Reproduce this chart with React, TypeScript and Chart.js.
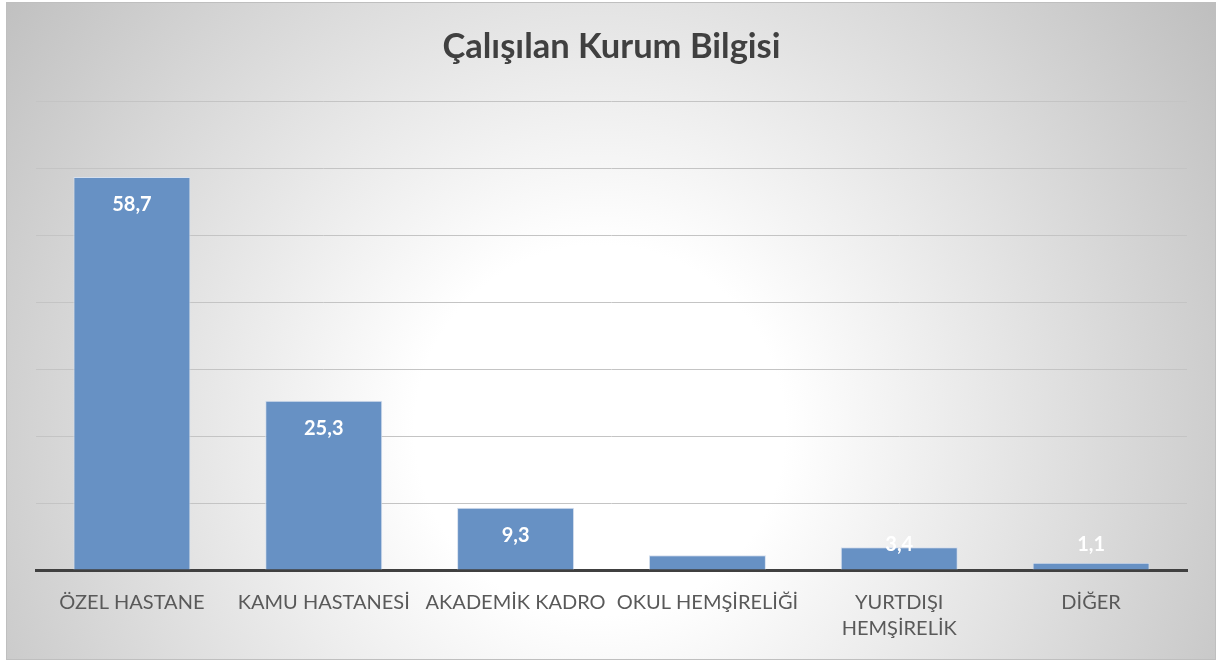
import React, { useEffect, useRef } from "react";
import { Chart, registerables } from "chart.js";

Chart.register(...registerables);

const titleText = "Çalışılan Kurum Bilgisi";
const categories: (string | string[])[] = [
  "ÖZEL HASTANE",
  "KAMU HASTANESİ",
  "AKADEMİK KADRO",
  "OKUL HEMŞİRELİĞİ",
  ["YURTDIŞI", "HEMŞİRELİK"],
  "DİĞER",
];
const values = [58.7, 25.3, 9.3, 2.2, 3.4, 1.1];
const yMax = 70;
const yStep = 10;

const FONT = "Lato, 'Open Sans', sans-serif";

const bgPlugin = {
  id: "bgFrame",
  beforeDraw(chart: any) {
    const ctx = chart.ctx;
    const x0 = 6, y0 = 2, x1 = 1216, y1 = 660;
    ctx.save();
    const g = ctx.createRadialGradient(600, 430, 185, 600, 430, 770);
    g.addColorStop(0, "#ffffff");
    g.addColorStop(1, "#bcbcbc");
    ctx.fillStyle = g;
    ctx.fillRect(x0, y0, x1 - x0, y1 - y0);
    ctx.strokeStyle = "#bfbfbf";
    ctx.lineWidth = 1;
    ctx.strokeRect(x0 + 0.5, y0 + 0.5, x1 - x0 - 1, y1 - y0 - 1);
    ctx.restore();
  },
};

const valueLabelPlugin = {
  id: "valueLabels",
  afterDatasetsDraw(chart: any) {
    const ctx = chart.ctx;
    const meta = chart.getDatasetMeta(0);
    const base = chart.scales.y.getPixelForValue(0);
    ctx.save();
    ctx.font = `bold 20px ${FONT}`;
    ctx.fillStyle = "#ffffff";
    ctx.textAlign = "center";
    ctx.textBaseline = "middle";
    meta.data.forEach((el: any, i: number) => {
      const y = Math.min(el.y + 28, base - 25);
      ctx.fillText(values[i].toFixed(1).replace(".", ","), el.x, y);
    });
    ctx.restore();
  },
};

export default function App() {
  const ref = useRef<HTMLCanvasElement | null>(null);
  useEffect(() => {
    if (!ref.current) return;
    const chart = new Chart(ref.current, {
      type: "bar",
      data: {
        labels: categories,
        datasets: [
          {
            data: values,
            backgroundColor: "#6791c4",
            borderColor: "#d6e0ee",
            borderWidth: 1,
            barPercentage: 0.61,
            categoryPercentage: 1,
          },
        ],
      },
      options: {
        animation: false,
        responsive: false,
        maintainAspectRatio: false,
        layout: { padding: { left: 36, right: 30, top: 2, bottom: 0 } },
        plugins: {
          legend: { display: false },
          tooltip: { enabled: false },
          title: {
            display: true,
            text: titleText,
            color: "#404040",
            font: { family: FONT, size: 34.5, weight: "bold" },
            padding: { top: 24, bottom: 34 },
          },
        },
        scales: {
          y: {
            min: 0,
            max: yMax,
            ticks: { display: false, stepSize: yStep },
            border: { display: false },
            grid: { color: "#c4c4c4", lineWidth: 1, drawTicks: false },
          },
          x: {
            grid: { display: false, drawTicks: false },
            border: { display: true, color: "#404040", width: 3 },
            ticks: {
              color: "#595959",
              font: { family: FONT, size: 20, lineHeight: 1.3 },
              padding: 20,
              maxRotation: 0,
              minRotation: 0,
              autoSkip: false,
            },
          },
        },
      },
      plugins: [bgPlugin, valueLabelPlugin],
    });
    return () => chart.destroy();
  }, []);
  return (
    <div style={{ position: "absolute", left: 0, top: 0, width: 1217, height: 662, background: "#fff" }}>
      <canvas ref={ref} width={1217} height={662} style={{ display: "block", width: 1217, height: 662 }} />
    </div>
  );
}
